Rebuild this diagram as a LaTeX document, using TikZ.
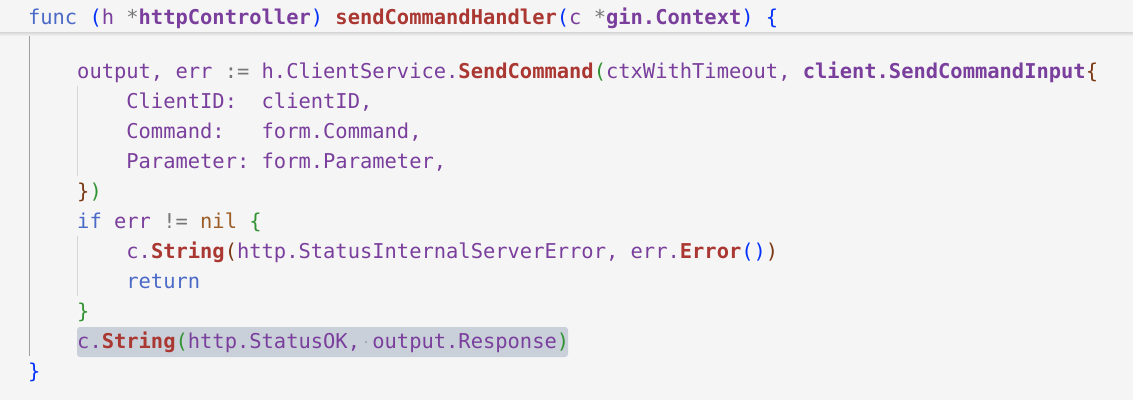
\documentclass[tikz,border=0pt]{standalone}
\usepackage{fontspec}
\setmonofont{DejaVu Sans Mono}
\usetikzlibrary{shadings}
\definecolor{bg}{HTML}{F5F5F5}
\definecolor{kw}{HTML}{4B69C6}
\definecolor{fn}{HTML}{AA3731}
\definecolor{vr}{HTML}{7A3E9D}
\definecolor{op}{HTML}{777777}
\definecolor{cn}{HTML}{9C5D27}
\definecolor{bone}{HTML}{0431FA}
\definecolor{btwo}{HTML}{319331}
\definecolor{bthree}{HTML}{7B3814}
\definecolor{selbg}{HTML}{C9D0D9}
\definecolor{guideact}{HTML}{A0A0A0}
\definecolor{guide}{HTML}{D6D6D6}
\definecolor{wsdot}{HTML}{AAAAAA}
\newcommand\cdKw[1]{\textcolor{kw}{#1}}
\newcommand\cdFn[1]{\textcolor{fn}{\bfseries #1}}
\newcommand\cdVr[1]{\textcolor{vr}{#1}}
\newcommand\cdTy[1]{\textcolor{vr}{\bfseries #1}}
\newcommand\cdOp[1]{\textcolor{op}{#1}}
\newcommand\cdCn[1]{\textcolor{cn}{#1}}
\newcommand\cdBA[1]{\textcolor{bone}{#1}}
\newcommand\cdBB[1]{\textcolor{btwo}{#1}}
\newcommand\cdBC[1]{\textcolor{bthree}{#1}}
\newcommand\cdSP{\hphantom{x}}
\begin{document}
\begin{tikzpicture}[x=1pt,y=-1pt,
  codeline/.style={anchor=base west,inner sep=0pt,outer sep=0pt,
    font=\ttfamily\fontsize{20.43}{30}\selectfont}]
\useasboundingbox (0,0) rectangle (1133,400);
\fill[bg] (0,0) rectangle (1133,400);
% header shadow
\shade[top color=black!16,bottom color=bg] (0,32) rectangle (1133,36);
% indent guides
\draw[guideact,line width=1pt] (29,36) -- (29,356);
\draw[guide,line width=1pt] (77.5,86) -- (77.5,176);
\draw[guide,line width=1pt] (77.5,236) -- (77.5,296);
% selection highlight
\fill[selbg,rounded corners=3pt] (77,327) rectangle (568,357);
\fill[wsdot] (366,342) circle (1.3pt);
% code
\node[codeline] (l0) at (28,24) {\cdKw{func} \cdBA{(}\cdVr{h} \cdOp{*}\cdTy{httpController}\cdBA{)} \cdFn{sendCommandHandler}\cdBA{(}\cdVr{c} \cdOp{*}\cdTy{gin.Context}\cdBA{)} \cdBA{\{}};
\node[codeline] (l2) at (77.2,78) {\cdVr{output, err} \cdOp{:=} \cdVr{h.ClientService.}\cdFn{SendCommand}\cdBB{(}\cdVr{ctxWithTimeout, }\cdTy{client.SendCommandInput}\cdBC{\{}};
\node[codeline] (l3) at (126.4,108) {\cdVr{ClientID:}\cdSP\cdSP\cdVr{clientID,}};
\node[codeline] (l4) at (126.4,138) {\cdVr{Command:}\cdSP\cdSP\cdSP\cdVr{form.Command,}};
\node[codeline] (l5) at (126.4,168) {\cdVr{Parameter:}\cdSP\cdVr{form.Parameter,}};
\node[codeline] (l6) at (77.2,198) {\cdBC{\}}\cdBB{)}};
\node[codeline] (l7) at (77.2,228) {\cdKw{if} \cdVr{err} \cdOp{!=} \cdCn{nil} \cdBB{\{}};
\node[codeline] (l8) at (126.4,258) {\cdVr{c.}\cdFn{String}\cdBC{(}\cdVr{http.StatusInternalServerError, err.}\cdFn{Error}\cdBA{()}\cdBC{)}};
\node[codeline] (l9) at (126.4,288) {\cdKw{return}};
\node[codeline] (l10) at (77.2,318) {\cdBB{\}}};
\node[codeline] (l11) at (77.2,348) {\cdVr{c.}\cdFn{String}\cdBB{(}\cdVr{http.StatusOK,}\cdSP\cdVr{output.Response}\cdBB{)}};
\node[codeline] (l12) at (28,378) {\cdBA{\}}};
\end{tikzpicture}
\end{document}
